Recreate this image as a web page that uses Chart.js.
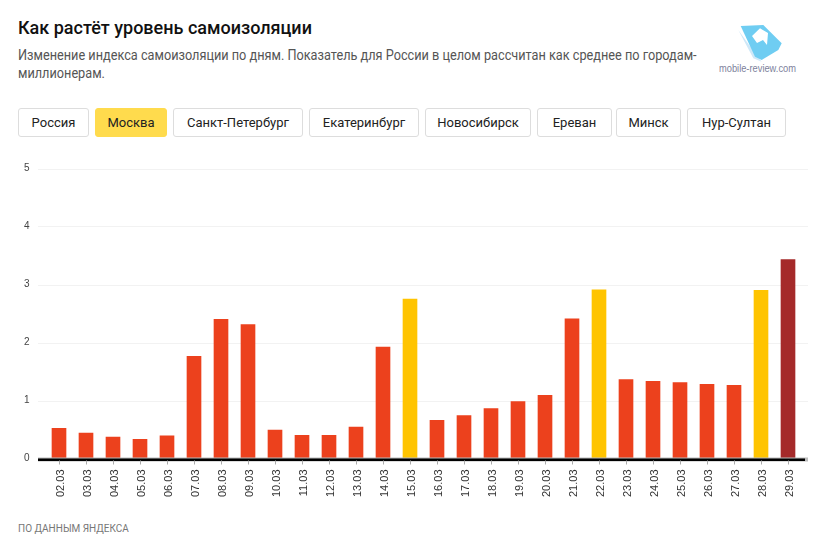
<!DOCTYPE html>
<html lang="ru"><head><meta charset="utf-8">
<style>
html,body{margin:0;padding:0;background:#fff;width:824px;height:543px;overflow:hidden;font-family:Roboto,sans-serif}
h1{position:absolute;left:18px;top:17px;margin:0;font-size:18px;line-height:22px;font-weight:500;color:#111;white-space:nowrap}
#sub{position:absolute;left:18px;top:47px;font-size:14px;line-height:17.5px;color:#555;white-space:nowrap;transform:scaleX(.908);transform-origin:0 0}
.b{position:absolute;top:108px;height:29px;box-sizing:border-box;border:1px solid #ddd;border-radius:3px;font-size:13px;line-height:27px;text-align:center;color:#222;background:#fff}
.b.on{background:#FFDB4D;border-color:#FFDB4D}
#wrap{position:absolute;left:0;top:150px;width:824px;height:360px}
#src{position:absolute;left:18px;top:522.5px;font-size:10px;line-height:12px;color:#777}
#logoT{position:absolute;left:719px;top:62px;font-size:10.5px;line-height:12px;color:#7d7f9c;font-family:"Liberation Sans",sans-serif;white-space:nowrap;transform:scaleX(.885);transform-origin:0 0}
#logo{position:absolute;left:735px;top:20px}
</style>
<script src="https://cdn.jsdelivr.net/npm/chart.js@4"></script>
</head><body>
<h1>Как растёт уровень самоизоляции</h1>
<div id="sub">Изменение индекса самоизоляции по дням. Показатель для России в целом рассчитан как среднее по городам-<br>миллионерам.</div>
<svg id="logo" width="50" height="44" viewBox="0 0 50 44">
<polygon points="3.3,10 18.3,38.3 26.7,41.7 22,36" fill="#cfe8f8"/>
<polygon points="5.7,6 28.3,5 46.7,23.3 43.3,30 26.7,40 20,36.7" fill="#6fcdf2"/>
<polygon points="17,16 25,8.3 33,13 32,25 28,20 22,23" fill="#fff"/>
</svg>
<div id="logoT">mobile-review.com</div>
<div id="btns"></div>
<div id="wrap"><canvas id="c"></canvas></div>
<div id="src">ПО ДАННЫМ ЯНДЕКСА</div>
<script>
const cities = ["Россия","Москва","Санкт-Петербург","Екатеринбург","Новосибирск","Ереван","Минск","Нур-Султан"];
const activeCity = "Москва";
const cityLeft = [18,95,173,309,425,537,616,687];
const cityWidth = [71,72,130,110,106,75,65,99];
const days = ["02.03","03.03","04.03","05.03","06.03","07.03","08.03","09.03","10.03","11.03","12.03","13.03","14.03","15.03","16.03","17.03","18.03","19.03","20.03","21.03","22.03","23.03","24.03","25.03","26.03","27.03","28.03","29.03"];
const values = [0.52,0.44,0.37,0.33,0.39,1.76,2.40,2.31,0.49,0.40,0.40,0.54,1.92,2.75,0.66,0.74,0.86,0.98,1.09,2.41,2.91,1.36,1.33,1.31,1.28,1.26,2.90,3.43];
const yellowDays = ["15.03","22.03","28.03"];
const darkDays = ["29.03"];
const colorMain = "#EC411D", colorYellow = "#FFC400", colorDark = "#A52A2A";

const host = document.getElementById("btns");
cities.forEach((n,i)=>{
  const d=document.createElement("div");
  d.className="b"+(n===activeCity?" on":"");
  d.style.left=cityLeft[i]+"px"; d.style.width=cityWidth[i]+"px"; d.textContent=n;
  host.appendChild(d);
});

const extLines = {
  id:"extLines",
  beforeDatasetsDraw(ch){
    const y=ch.scales.y, g=ch.ctx, L=38, R=808;
    g.save();
    g.strokeStyle="#f2f2f2"; g.lineWidth=1;
    [1,2,3,4,5].forEach(v=>{
      const p=Math.round(y.getPixelForValue(v))+.5;
      g.beginPath(); g.moveTo(L,p); g.lineTo(R,p); g.stroke();
    });
    g.restore();
  },
  afterDatasetsDraw(ch){
    const y=ch.scales.y, g=ch.ctx, L=38, R=808, p=y.getPixelForValue(0);
    g.save();
    g.fillStyle="#bbb"; g.fillRect(L,p-1,R-L,4);
    g.fillStyle="#000"; g.fillRect(L,p,R-L-3,2.5);
    g.restore();
  }
};

Chart.defaults.font.family='"Liberation Sans",Arial,sans-serif';
new Chart(document.getElementById("c"),{
  type:"bar",
  data:{labels:days,datasets:[{
    data:values,
    backgroundColor:days.map(d=>yellowDays.includes(d)?colorYellow:darkDays.includes(d)?colorDark:colorMain),
    barThickness:14,borderWidth:0
  }]},
  options:{
    responsive:true,maintainAspectRatio:false,animation:false,
    layout:{padding:{left:0,right:22.5,top:18.5,bottom:0}},
    plugins:{legend:{display:false},tooltip:{enabled:false}},
    scales:{
      x:{
        grid:{display:false,drawTicks:true},
        border:{display:false},
        ticks:{color:"#333",font:{size:11},maxRotation:90,minRotation:90,padding:3,autoSkip:false,labelOffset:1.5},
        afterFit(s){s.height=51.5;}
      },
      y:{
        min:0,max:5,
        grid:{display:false},
        border:{display:false},
        ticks:{stepSize:1,color:"#444",font:{size:10},padding:8,
          callback:v=>String(v)},
        afterFit(s){s.width=45.5;}
      }
    }
  },
  plugins:[extLines,{
    id:"xTicks",
    afterDatasetsDraw(ch){
      const x=ch.scales.x,y=ch.scales.y,g=ch.ctx,p=y.getPixelForValue(0);
      g.save();g.strokeStyle="#aaa";g.lineWidth=1;
      days.forEach((d,i)=>{const q=Math.round(x.getPixelForValue(i))+.5;g.beginPath();g.moveTo(q,p+2);g.lineTo(q,p+6);g.stroke();});
      g.restore();
    }
  }]
});
</script>
</body></html>
